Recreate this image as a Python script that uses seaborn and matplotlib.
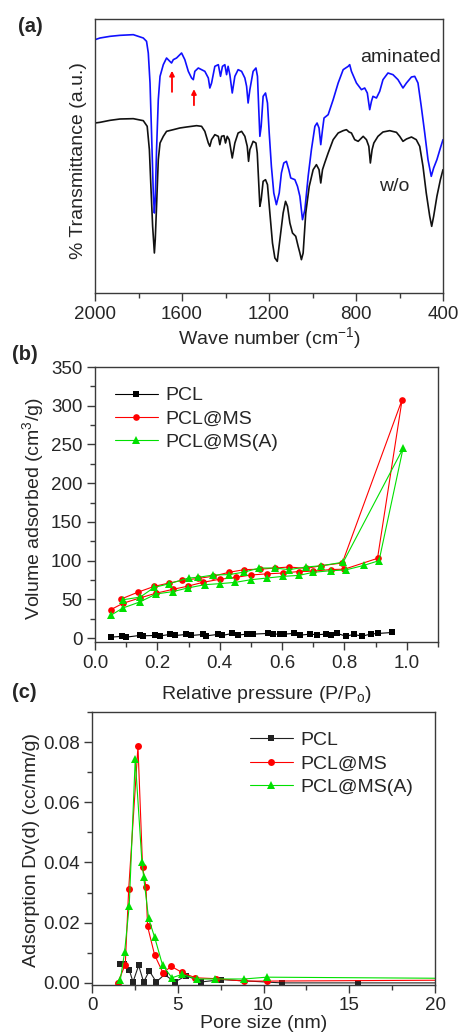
import seaborn as sns
import matplotlib
matplotlib.use("Agg")
import matplotlib.pyplot as plt
from matplotlib.ticker import MultipleLocator, NullLocator

# ---- (a) FTIR spectra ----
wn_amin = [2000, 1977, 1931, 1885, 1824, 1778, 1763, 1755, 1747, 1740, 1732, 1727, 1723, 1717, 1709, 1701,
           1686, 1671, 1656, 1648, 1640, 1625, 1602, 1587, 1571, 1556, 1548, 1541, 1525, 1510, 1495, 1479,
           1472, 1464, 1449, 1433, 1423, 1414, 1403, 1395, 1388, 1380, 1369, 1357, 1342, 1326, 1311, 1303,
           1296, 1288, 1273, 1260, 1253, 1247, 1242, 1236, 1227, 1216, 1207, 1199, 1189, 1178, 1166, 1153,
           1143, 1132, 1120, 1109, 1100, 1081, 1069, 1058, 1046, 1035, 1020, 1005, 989, 979, 970, 962,
           954, 947, 928, 905, 882, 859, 836, 829, 821, 798, 775, 760, 748, 737, 729, 722, 706, 691, 676,
           653, 630, 607, 584, 568, 545, 530, 515, 500, 484, 469, 454, 443, 428, 412, 400]
T_amin = [76.0, 76.5, 77.0, 77.3, 77.5, 76.5, 75.5, 72.0, 63.0, 48.0, 30.0, 24.0, 28.0, 43.0, 58.0, 65.0,
          68.5, 70.5, 69.5, 69.0, 70.0, 70.5, 72.0, 70.0, 66.5, 64.5, 64.0, 66.5, 67.5, 67.0, 66.5, 64.5,
          61.5, 63.0, 68.0, 68.5, 65.0, 68.0, 68.5, 65.5, 68.0, 65.5, 60.0, 65.0, 67.0, 66.5, 64.5, 62.0,
          57.0, 61.0, 66.5, 67.5, 65.0, 55.0, 47.0, 50.0, 59.0, 60.0, 57.0, 48.0, 38.0, 30.0, 26.5, 30.0,
          36.0, 39.0, 39.5, 37.0, 34.5, 34.0, 32.0, 29.0, 22.0, 25.0, 35.0, 43.0, 50.0, 51.0, 49.5, 44.5,
          49.0, 52.5, 53.5, 58.0, 63.0, 67.0, 68.0, 68.5, 66.5, 63.0, 61.0, 61.5, 60.0, 55.0, 57.5, 59.0,
          58.5, 60.5, 64.0, 66.0, 65.5, 64.0, 61.5, 63.0, 64.8, 65.0, 63.0, 56.0, 48.0, 40.0, 35.0, 37.5,
          40.0, 43.5, 46.0]

wn_wo = [2000, 1977, 1931, 1885, 1824, 1778, 1760, 1750, 1743, 1735, 1727, 1723, 1717, 1709, 1701, 1686,
         1671, 1640, 1610, 1579, 1556, 1533, 1510, 1495, 1479, 1472, 1464, 1449, 1433, 1426, 1418, 1407,
         1400, 1392, 1383, 1369, 1357, 1342, 1326, 1311, 1300, 1294, 1288, 1273, 1260, 1254, 1248, 1242,
         1236, 1227, 1216, 1207, 1196, 1184, 1173, 1162, 1150, 1135, 1124, 1115, 1104, 1092, 1077, 1066,
         1058, 1051, 1043, 1031, 1015, 997, 982, 970, 962, 954, 944, 928, 905, 882, 859, 844, 832, 821,
         806, 790, 767, 752, 741, 734, 726, 718, 699, 676, 645, 614, 599, 584, 568, 545, 523, 507, 492,
         477, 461, 452, 443, 428, 412, 400]
T_wo = [51.0, 51.2, 51.8, 52.2, 52.3, 51.7, 50.0, 43.0, 32.0, 20.0, 12.0, 16.0, 26.0, 40.0, 45.0, 47.0,
        48.5, 49.0, 49.5, 49.8, 50.0, 50.2, 50.0, 48.5, 45.0, 44.0, 46.0, 47.5, 47.0, 44.5, 47.0, 47.2,
        45.0, 47.0, 46.0, 40.5, 45.0, 48.0, 48.5, 47.0, 44.0, 39.5, 43.0, 45.5, 45.0, 42.0, 34.0, 26.0,
        28.0, 33.5, 34.0, 32.5, 24.0, 15.0, 10.5, 9.5, 16.0, 24.0, 27.5, 26.0, 21.0, 18.0, 17.0, 14.0,
        12.0, 10.0, 12.0, 24.0, 32.0, 37.0, 38.5, 37.0, 33.0, 37.0, 39.0, 42.0, 46.0, 48.0, 48.7, 49.0,
        48.3, 48.0, 46.0, 45.5, 47.0, 46.0, 44.0, 39.0, 43.0, 45.0, 47.0, 48.3, 48.7, 48.2, 47.0, 45.5,
        46.2, 46.8, 46.0, 44.0, 38.0, 30.0, 23.0, 20.0, 23.0, 29.0, 34.0, 37.0]

# ---- (b) N2 isotherms (adsorption then desorption, in measured order) ----
p_pcl = [0.05, 0.086, 0.10, 0.143, 0.155, 0.193, 0.209, 0.241, 0.257, 0.293, 0.308, 0.346, 0.357, 0.393,
         0.407, 0.44, 0.458, 0.488, 0.507, 0.555, 0.571, 0.593, 0.606, 0.638, 0.659, 0.691, 0.711, 0.74,
         0.758, 0.777, 0.804, 0.83, 0.857, 0.884, 0.906, 0.954]
v_pcl = [1.3, 2.2, 1.3, 3.4, 3.0, 3.4, 3.0, 4.7, 3.4, 4.7, 3.4, 4.7, 3.0, 4.7, 3.4, 6.0, 3.9, 5.2, 5.2,
         6.0, 5.2, 5.2, 5.2, 6.0, 3.9, 5.2, 4.3, 5.2, 4.3, 6.0, 2.6, 4.7, 2.6, 5.2, 6.0, 7.3]

p_ms = [0.05, 0.09, 0.145, 0.196, 0.25, 0.297, 0.346, 0.40, 0.453, 0.50, 0.552, 0.602, 0.654, 0.70,
        0.756, 0.80, 0.906, 0.985, 0.793, 0.726, 0.677, 0.622, 0.577, 0.53, 0.479, 0.43, 0.38, 0.33,
        0.28, 0.236, 0.19, 0.139, 0.083]
v_ms = [36.6, 45.0, 52.0, 58.0, 63.0, 67.0, 72.0, 76.0, 78.5, 81.5, 83.0, 84.0, 86.0, 86.5, 88.5, 89.0,
        103.0, 308.0, 97.0, 93.5, 90.0, 91.8, 90.5, 89.0, 88.4, 85.0, 80.0, 77.0, 74.6, 71.0, 66.8, 59.5,
        50.4]

p_msa = [0.05, 0.089, 0.143, 0.196, 0.249, 0.297, 0.352, 0.40, 0.45, 0.50, 0.552, 0.602, 0.654, 0.70,
         0.756, 0.804, 0.863, 0.911, 0.988, 0.796, 0.726, 0.677, 0.622, 0.577, 0.527, 0.479, 0.43, 0.38,
         0.329, 0.30, 0.236, 0.19, 0.145, 0.091]
v_msa = [29.3, 38.8, 46.6, 57.0, 60.0, 64.7, 69.0, 70.3, 72.0, 75.4, 77.6, 79.7, 81.0, 85.0, 87.0, 88.0,
         94.0, 100.0, 245.0, 98.0, 93.5, 91.8, 88.4, 90.5, 90.5, 85.3, 82.0, 81.5, 78.4, 77.6, 70.0, 65.5,
         53.0, 49.6]

# ---- (c) pore size distribution ----
d_pcl = [1.61, 1.88, 2.17, 2.39, 2.72, 3.01, 3.34, 3.75, 4.23, 4.82, 5.50, 6.37, 7.53, 11.07, 15.53, 24.0]
dv_pcl = [0.0063, 0.0063, 0.0044, 0.0003, 0.0058, 0.0003, 0.0040, 0.0003, 0.0028, 0.0003, 0.0024,
          0.0003, 0.0011, 0.0, 0.0, 0.0]
d_ms = [1.50, 1.94, 2.14, 2.68, 2.95, 3.15, 3.24, 3.65, 4.14, 4.62, 5.24, 6.02, 7.24, 8.87, 10.19, 24.0]
dv_ms = [0.0, 0.0061, 0.0312, 0.0786, 0.0384, 0.0318, 0.0188, 0.0093, 0.0033, 0.0055, 0.0035, 0.0017,
         0.0014, 0.0006, 0.0006, 0.0010]
d_msa = [1.65, 1.90, 2.17, 2.52, 2.91, 3.01, 3.30, 3.65, 4.12, 4.66, 5.24, 6.12, 7.15, 8.87, 10.19, 24.0]
dv_msa = [0.0009, 0.0102, 0.0256, 0.0743, 0.0403, 0.0353, 0.0214, 0.0152, 0.0058, 0.0017, 0.0028,
          0.0013, 0.0013, 0.0013, 0.0019, 0.0014]

sns.set_style("ticks")
plt.rcParams['font.family'] = ['Liberation Sans', 'DejaVu Sans']
plt.rcParams['mathtext.fontset'] = 'custom'
plt.rcParams['mathtext.rm'] = 'Liberation Sans'
plt.rcParams['mathtext.it'] = 'Liberation Sans:italic'
plt.rcParams['mathtext.bf'] = 'Liberation Sans:bold'

spine_c = '#3a3a3a'
fs_tick = 13.5
fs_lab = 14

fig = plt.figure(figsize=(4.59, 10.32), dpi=100)
W, H = 459, 1032


def add_ax(l, t, r, b):
    return fig.add_axes([l / W, 1 - b / H, (r - l) / W, (b - t) / H])


def style(ax):
    for s in ax.spines.values():
        s.set_visible(True)
        s.set_color(spine_c)
        s.set_linewidth(1.0)
    ax.tick_params(which='major', direction='out', length=6, width=1, color=spine_c,
                   labelsize=fs_tick, pad=3)
    ax.tick_params(which='minor', direction='out', length=3.5, width=1, color=spine_c)


# (a)
ax1 = add_ax(95, 19, 443, 293)
sns.lineplot(x=wn_amin, y=T_amin, ax=ax1, color='#1010ff', linewidth=1.2, sort=False, estimator=None)
sns.lineplot(x=wn_wo, y=T_wo, ax=ax1, color='#111111', linewidth=1.2, sort=False, estimator=None)
ax1.set_xlim(2000, 400)
ax1.set_ylim(0, 82.2)
ax1.xaxis.set_major_locator(MultipleLocator(400))
ax1.xaxis.set_minor_locator(MultipleLocator(200))
ax1.yaxis.set_major_locator(NullLocator())
style(ax1)
ax1.set_xlabel('Wave number (cm$^{-1}$)', fontsize=fs_lab, labelpad=2)
ax1.set_ylabel('% Transmittance (a.u.)', fontsize=fs_lab)
ax1.yaxis.set_label_coords(-0.023, 0.485)
ax1.annotate('', xy=(1646, 67.5), xytext=(1646, 59.5),
             arrowprops=dict(arrowstyle='-|>', color='red', lw=1.3, mutation_scale=7))
ax1.annotate('', xy=(1545, 62.0), xytext=(1545, 55.5),
             arrowprops=dict(arrowstyle='-|>', color='red', lw=1.3, mutation_scale=7))
ax1.text(408, 70.8, 'aminated', fontsize=fs_lab, ha='right', va='center')
ax1.text(622, 32.0, 'w/o', fontsize=fs_lab, ha='center', va='center')

# (b)
ax2 = add_ax(95, 367, 438, 642)
sns.lineplot(x=p_pcl, y=v_pcl, ax=ax2, color='black', linewidth=0.8, marker='s', markersize=4.2,
             markeredgewidth=0, sort=False, estimator=None, label='PCL')
sns.lineplot(x=p_ms, y=v_ms, ax=ax2, color='#ff0000', linewidth=0.8, marker='o', markersize=4.8,
             markeredgewidth=0, sort=False, estimator=None, label='PCL@MS')
sns.lineplot(x=p_msa, y=v_msa, ax=ax2, color='#00e000', linewidth=0.8, marker='^', markersize=5.8,
             markeredgewidth=0, sort=False, estimator=None, label='PCL@MS(A)')
ax2.set_xlim(0, 1.1)
ax2.set_ylim(-5, 350)
ax2.xaxis.set_major_locator(MultipleLocator(0.2))
ax2.xaxis.set_minor_locator(MultipleLocator(0.1))
ax2.yaxis.set_major_locator(MultipleLocator(50))
ax2.yaxis.set_minor_locator(MultipleLocator(25))
ax2.xaxis.set_major_formatter(matplotlib.ticker.FormatStrFormatter('%.1f'))
style(ax2)
ax2.set_xlabel('Relative pressure (P/P$_\\mathrm{o}$)', fontsize=fs_lab, labelpad=9)
ax2.set_ylabel('Volume adsorbed (cm$^3$/g)', fontsize=fs_lab)
ax2.yaxis.set_label_coords(-0.143, 0.484)
ax2.legend(loc='upper left', bbox_to_anchor=(0.058, 0.928), frameon=False, fontsize=fs_lab,
           handlelength=2.2, handletextpad=0.4, labelspacing=0.3, borderpad=0, borderaxespad=0)

# (c)
ax3 = add_ax(92, 712, 435, 985)
sns.lineplot(x=d_pcl, y=dv_pcl, ax=ax3, color='#222222', linewidth=0.8, marker='s', markersize=4.5,
             markeredgewidth=0, sort=False, estimator=None, label='PCL')
sns.lineplot(x=d_ms, y=dv_ms, ax=ax3, color='#ff0000', linewidth=0.8, marker='o', markersize=5,
             markeredgewidth=0, sort=False, estimator=None, label='PCL@MS')
sns.lineplot(x=d_msa, y=dv_msa, ax=ax3, color='#00e000', linewidth=0.8, marker='^', markersize=6,
             markeredgewidth=0, sort=False, estimator=None, label='PCL@MS(A)')
ax3.set_xlim(0, 20)
ax3.set_ylim(-0.0007, 0.09)
ax3.xaxis.set_major_locator(MultipleLocator(5))
ax3.xaxis.set_minor_locator(MultipleLocator(2.5))
ax3.yaxis.set_major_locator(MultipleLocator(0.02))
ax3.yaxis.set_minor_locator(MultipleLocator(0.01))
ax3.yaxis.set_major_formatter(matplotlib.ticker.FormatStrFormatter('%.2f'))
style(ax3)
ax3.set_xlabel('Pore size (nm)', fontsize=fs_lab, labelpad=0)
ax3.set_ylabel('Adsorption Dv(d) (cc/nm/g)', fontsize=fs_lab)
ax3.yaxis.set_label_coords(-0.152, 0.495)
ax3.legend(loc='upper left', bbox_to_anchor=(0.46, 0.929), frameon=False, fontsize=fs_lab,
           handlelength=2.2, handletextpad=0.4, labelspacing=0.3, borderpad=0, borderaxespad=0)

for lab, xx, yy in [('(a)', 18, 26), ('(b)', 12, 355), ('(c)', 12, 692)]:
    fig.text(xx / W, 1 - yy / H, lab, fontsize=14.5, fontweight='bold', va='center', ha='left')

fig.savefig('out.png', dpi=100)
